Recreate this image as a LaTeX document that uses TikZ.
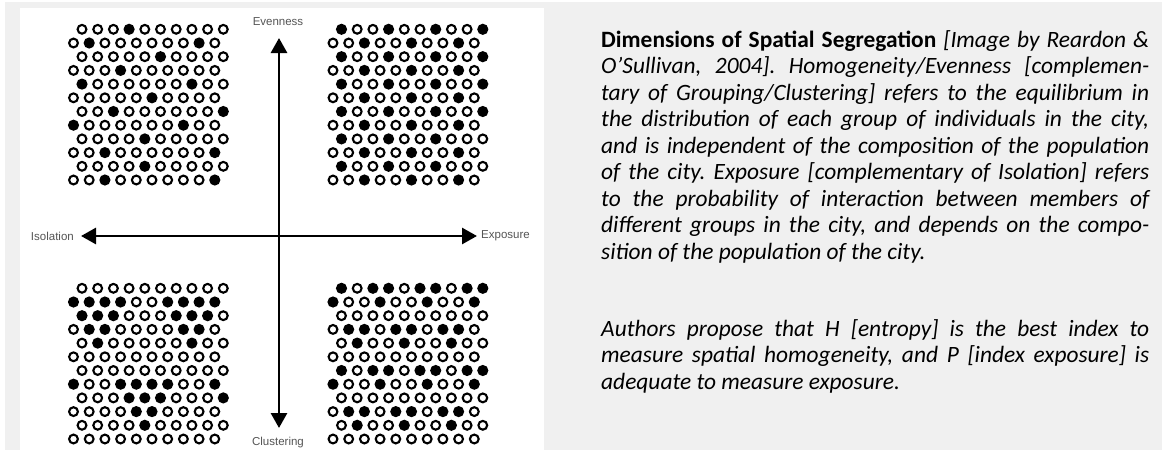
\documentclass[tikz,border=0pt]{standalone}
\usepackage{fontspec}
\setmainfont{Carlito}
\newfontfamily\labelfont{Liberation Sans}
\usetikzlibrary{arrows.meta}

\definecolor{pagegray}{HTML}{F0F0F0}
\definecolor{labelgray}{HTML}{555555}

\tikzset{
  hole/.style={draw, line width=2.1pt},
  axis/.style={line width=2.8pt, -{Triangle[length=15pt,width=16pt]}},
  axislabel/.style={font=\labelfont\fontsize{11.5}{12}\selectfont, text=labelgray, inner sep=0pt},
  caption/.style={text width=548pt, align=justify, inner sep=0pt, anchor=base west,
    font=\frenchspacing\fontsize{23.4}{26.5}\selectfont}
}

% one grid of 12 rows x 10 dots; odd rows start at #1, even rows half a step left
\newcommand{\dotgrid}[3]{%
  \foreach \pat [count=\i] in {#3}{
    \pgfmathsetmacro{\xs}{#1-8.5*(1-mod(\i,2))}
    \foreach \v [count=\j] in \pat {
      \ifnum\v=1
        \fill (\xs+15.7*\j-15.7, #2+13.7*\i-13.7) circle[radius=5.6];
      \else
        \draw[hole] (\xs+15.7*\j-15.7, #2+13.7*\i-13.7) circle[radius=4.4];
      \fi
    }
  }%
}

\begin{document}
\begin{tikzpicture}[x=1pt, y=-1pt]
  \useasboundingbox (0,0) rectangle (1162,450);
  % Sfondo
  \fill[pagegray] (0,0) rectangle (1162,450);
  \fill[white] (0,0) rectangle (5,450);
  \fill[white] (0,0) rectangle (1162,2);
  \fill[white] (20,8) rectangle (544,450);

  % Griglie
  \dotgrid{82}{29.3}{
    {0,0,0,1,0,0,0,0,0,0},{0,1,0,0,0,0,0,0,1,0},{0,0,0,0,0,1,0,0,0,0},
    {0,0,0,1,0,0,0,0,0,0},{1,0,0,0,0,0,0,1,0,0},{0,0,0,0,0,1,0,0,0,0},
    {0,0,1,0,0,0,0,0,0,1},{1,0,0,0,0,0,0,1,0,0},{0,0,0,0,1,0,0,0,0,0},
    {0,0,1,0,0,0,0,0,0,1},{0,0,0,0,1,0,0,0,0,0},{0,0,1,0,0,0,0,0,0,1}}
  \dotgrid{341.5}{29.3}{
    {1,0,0,1,0,0,1,0,0,1},{0,0,1,0,0,1,0,0,1,0},{1,0,0,1,0,0,1,0,0,1},
    {0,0,1,0,0,1,0,0,1,0},{1,0,0,1,0,0,1,0,0,1},{0,0,1,0,0,1,0,0,1,0},
    {1,0,0,1,0,0,1,0,0,1},{0,0,1,0,0,1,0,0,1,0},{1,0,0,1,0,0,1,0,0,0},
    {0,0,1,0,0,1,0,0,1,0},{1,0,0,1,0,0,1,0,0,0},{0,0,1,0,0,1,0,0,1,0}}
  \dotgrid{82}{288.3}{
    {0,0,0,0,0,0,0,0,0,0},{1,1,1,1,0,0,1,1,1,1},{1,1,1,0,0,0,1,1,1,0},
    {0,1,1,0,0,0,0,1,1,0},{0,1,0,0,0,0,0,1,0,0},{0,0,0,0,0,0,0,0,0,0},
    {0,0,0,0,0,0,0,0,0,0},{1,0,0,1,1,1,1,0,0,1},{0,0,0,1,1,1,0,0,0,1},
    {0,0,0,0,1,1,0,0,0,0},{0,0,0,0,1,0,0,0,0,0},{0,0,0,0,0,0,0,0,0,0}}
  \dotgrid{341.5}{288.3}{
    {1,0,1,1,0,1,1,0,1,1},{1,0,0,1,0,0,1,0,0,1},{0,0,0,0,0,0,0,0,0,0},
    {0,1,1,0,1,1,0,1,1,0},{0,1,0,0,1,0,0,1,0,0},{0,0,0,0,0,0,0,0,0,0},
    {1,0,1,1,0,1,1,0,1,1},{1,0,0,1,0,0,1,0,0,1},{0,0,0,0,0,0,0,0,0,0},
    {0,1,1,0,1,1,0,1,1,0},{0,1,0,0,1,0,0,1,0,0},{0,0,0,0,0,0,0,0,0,0}}

  % Assi
  \coordinate (origin) at (279,236);
  \coordinate (top) at (279,38);
  \coordinate (bottom) at (279,428);
  \coordinate (left) at (81,236);
  \coordinate (right) at (477,236);
  \draw[axis] (origin) -- (top);
  \draw[axis] (origin) -- (bottom);
  \draw[axis] (origin) -- (left);
  \draw[axis] (origin) -- (right);
  \node[axislabel] (evenness) at (278,22) {Evenness};
  \node[axislabel] (clustering) at (278,443) {Clustering};
  \node[axislabel, anchor=east] (isolation) at (74,236) {Isolation};
  \node[axislabel, anchor=west] (exposure) at (481,236) {Exposure};

  % Testo
  \node[caption] (para1) at (601,47) {\textbf{Dimensions of Spatial Segregation} \textit{[Image by Reardon \&\linebreak
    O’Sullivan, 2004]. Homogeneity/Evenness [complemen-\linebreak
    tary of Grouping/Clustering] refers to the equilibrium in\linebreak
    the distribution of each group of individuals in the city,\linebreak
    and is independent of the composition of the population\linebreak
    of the city. Exposure [complementary of Isolation] refers\linebreak
    to the probability of interaction between members of\linebreak
    different groups in the city, and depends on the compo-\linebreak
    sition of the population of the city.}};
  \node[caption] (para2) at (601,336) {\textit{Authors propose that H [entropy] is the best index to\linebreak
    measure spatial homogeneity, and P [index exposure] is\linebreak
    adequate to measure exposure.}};
\end{tikzpicture}
\end{document}
